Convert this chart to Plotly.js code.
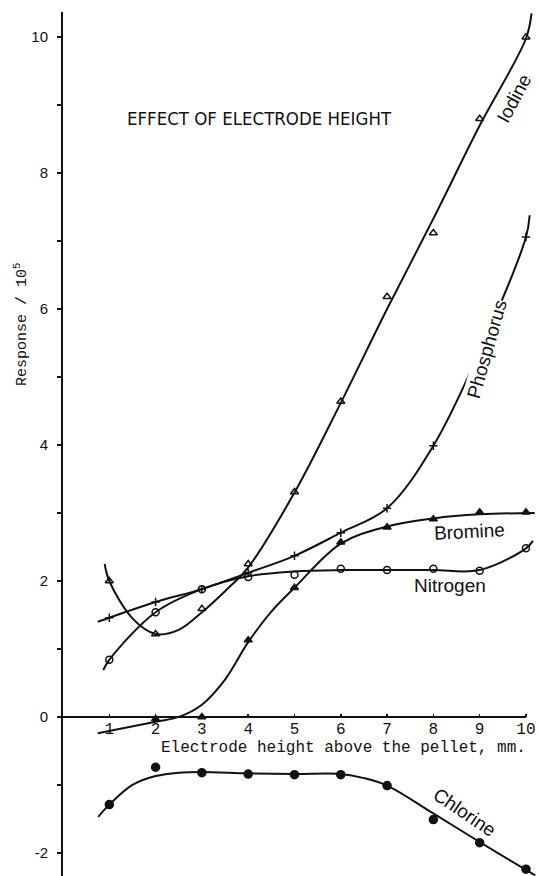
<!DOCTYPE html>
<html>
<head>
<meta charset="utf-8">
<script src="https://cdn.plot.ly/plotly-3.0.1.min.js"></script>
<style>html,body{margin:0;padding:0;background:#fff}#chart{width:541px;height:876px}</style>
</head>
<body>
<div id="chart"></div>
<script>
// ---- data ----
const heights = [1, 2, 3, 4, 5, 6, 7, 8, 9, 10];

const iodine     = [2.0, 1.22, 1.59, 2.25, 3.31, 4.64, 6.18, 7.12, 8.80, 10.0];
const phosphorus = [1.46, 1.69, 1.88, 2.12, 2.37, 2.71, 3.07, 3.99, 5.38, 7.06];
const bromine    = [null, -0.03, 0.0, 1.13, 1.90, 2.57, 2.79, 2.91, 3.01, 3.01];
const nitrogen   = [0.84, 1.54, 1.88, 2.06, 2.09, 2.18, 2.16, 2.18, 2.15, 2.48];
const chlorine   = [-1.29, -0.74, -0.82, -0.84, -0.85, -0.85, -1.01, -1.51, -1.85, -2.24];

// hand-drawn curves
const iodineCurveX = [0.9, 1.0, 1.5, 2.0, 2.5, 3.0, 3.5, 4.0, 5.0, 6.0, 7.0, 8.0, 9.0, 10.0, 10.12];
const iodineCurveY = [2.25, 2.0, 1.45, 1.22, 1.28, 1.54, 1.85, 2.2, 3.3, 4.62, 6.0, 7.33, 8.7, 9.98, 10.35];

const phosCurveX = [0.75, 1, 2, 3, 4, 5, 6, 7, 8, 9, 10, 10.08];
const phosCurveY = [1.40, 1.46, 1.69, 1.88, 2.12, 2.37, 2.71, 3.07, 3.99, 5.38, 7.06, 7.38];

const bromCurveX = [0.75, 2.0, 2.5, 3.0, 3.5, 4.0, 4.5, 5.0, 6.0, 7.0, 8.0, 9.0, 10.19];
const bromCurveY = [-0.24, -0.07, 0.0, 0.18, 0.55, 1.1, 1.55, 1.9, 2.55, 2.8, 2.92, 2.98, 3.0];

const nitroCurveX = [0.87, 1, 2, 3, 4, 5, 6, 7, 8, 9, 10, 10.15];
const nitroCurveY = [0.69, 0.84, 1.54, 1.88, 2.07, 2.14, 2.16, 2.16, 2.16, 2.16, 2.48, 2.59];

const chlorCurveX = [0.76, 1, 1.5, 2, 2.5, 3, 4, 5, 6, 6.5, 7, 8, 9, 10, 10.2];
const chlorCurveY = [-1.47, -1.29, -1.0, -0.87, -0.82, -0.81, -0.83, -0.84, -0.84, -0.9, -1.01, -1.42, -1.84, -2.25, -2.33];

const xTickVals = [1, 2, 3, 4, 5, 6, 7, 8, 9, 10];
const xTickText = ['1', '2', '3', '4', '5', '6', '7', '8', '9', '10'];
const yTickVals = [-2, 0, 2, 4, 6, 8, 10];
const yTickText = ['-2', '0', '2', '4', '6', '8', '10'];

// ---- layout constants ----
const Y_MIN = -2.34, Y_MAX = 10.37, X_MAX = 10.26;
const zeroFrac = (0 - Y_MIN) / (Y_MAX - Y_MIN);
const BLK = '#111';
const SANS = 'Liberation Sans, Arial, sans-serif';
const COND = 'DejaVu Sans Condensed, Liberation Sans Narrow, Liberation Sans, sans-serif';
const MONO = 'Liberation Mono, DejaVu Sans Mono, monospace';

function curve(x, y) {
  return {x: x, y: y, type: 'scatter', mode: 'lines', hoverinfo: 'skip',
          line: {color: BLK, width: 2, shape: 'spline', smoothing: 1}, showlegend: false};
}
function pts(y, symbol, size) {
  return {x: heights, y: y, type: 'scatter', mode: 'markers', showlegend: false,
          marker: {symbol: symbol, size: size, color: BLK, line: {color: BLK, width: 1.5}}};
}

const traces = [
  curve(iodineCurveX, iodineCurveY),
  curve(phosCurveX, phosCurveY),
  curve(bromCurveX, bromCurveY),
  curve(nitroCurveX, nitroCurveY),
  curve(chlorCurveX, chlorCurveY),
  pts(iodine, 'triangle-up-open', 7),
  pts(phosphorus, 'cross-thin', 6),
  pts(bromine, 'triangle-up', 7),
  pts(nitrogen, 'circle-open', 7),
  pts(chlorine, 'circle', 8)
];

function lab(text, x, y, angle, size, bg) {
  return {text: text, x: x, y: y, xref: 'x', yref: 'y', showarrow: false,
          xanchor: 'center', yanchor: 'middle', borderpad: 0,
          bgcolor: bg || 'rgba(0,0,0,0)',
          textangle: angle, font: {family: SANS, size: size, color: BLK}};
}

const layout = {
  width: 541, height: 876,
  margin: {l: 63, r: 3, t: 12, b: 0},
  paper_bgcolor: '#fff', plot_bgcolor: '#fff',
  showlegend: false,
  xaxis: {
    range: [0, X_MAX], anchor: 'free', position: zeroFrac,
    showline: false, showgrid: false, zeroline: false,
    tickvals: xTickVals, ticktext: xTickText,
    ticks: 'inside', ticklen: 3, tickwidth: 1.5, tickcolor: BLK,
    ticklabelstandoff: 0,
    tickfont: {family: MONO, size: 16, color: BLK}
  },
  yaxis: {
    range: [Y_MIN, Y_MAX],
    showline: true, linecolor: BLK, linewidth: 2,
    showgrid: false, zeroline: false,
    tickmode: 'array', tickvals: yTickVals, ticktext: yTickText,
    ticks: 'outside', ticklen: 4, tickwidth: 1.5, tickcolor: BLK,
    minor: {tickmode: 'linear', tick0: 1, dtick: 1, ticks: 'outside', ticklen: 4,
            tickwidth: 1.5, tickcolor: BLK, showgrid: false},
    ticklabelstandoff: 6,
    tickfont: {family: SANS, size: 15, color: BLK}
  },
  shapes: [
    {type: 'line', xref: 'x', yref: 'y', x0: 0, x1: 10, y0: 0, y1: 0,
     line: {color: BLK, width: 2}}
  ],
  annotations: [
    {text: 'EFFECT OF ELECTRODE HEIGHT', xref: 'paper', yref: 'paper',
     x: (259 - 63) / 475, y: (876 - 118) / 864, xanchor: 'center', yanchor: 'middle',
     showarrow: false, font: {family: COND, size: 18.5, color: BLK}},
    {text: 'Electrode height above the pellet, mm.', xref: 'x', yref: 'y',
     x: 10.05, y: -0.45, xanchor: 'right', yanchor: 'middle', showarrow: false,
     font: {family: MONO, size: 16, color: BLK}},
    {text: 'Response / 10<sup>5</sup>', xref: 'paper', yref: 'paper',
     x: (21 - 63) / 475, y: (876 - 325) / 864, xanchor: 'center', yanchor: 'middle',
     textangle: -90, showarrow: false,
     font: {family: MONO, size: 15, color: BLK}},
    lab('Iodine', 9.74, 9.1, -62, 19),
    lab('Phosphorus', 9.16, 5.4, -74, 19, '#fff'),
    lab('Bromine', 8.79, 2.73, -3, 19),
    lab('Nitrogen', 8.36, 1.94, 0, 19),
    lab('Chlorine', 8.68, -1.41, 34, 19)
  ]
};

Plotly.newPlot('chart', traces, layout, {displayModeBar: false, staticPlot: true});
</script>
</body>
</html>
